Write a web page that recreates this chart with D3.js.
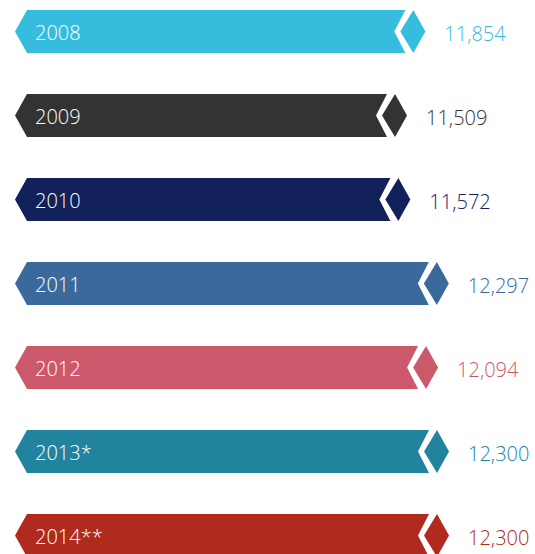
<!DOCTYPE html>
<html>
<head>
<meta charset="utf-8">
<script src="https://cdn.jsdelivr.net/npm/d3@7"></script>
<style>
  html, body { margin: 0; padding: 0; background: #fff; overflow: hidden; }
  text { font-family: "Open Sans", sans-serif; font-weight: 300; }
</style>
</head>
<body>
<svg id="chart"></svg>
<script>
const years = ['2008', '2009', '2010', '2011', '2012', '2013*', '2014**'];
const values = [11854, 11509, 11572, 12297, 12094, 12300, 12300];
const palette = ['#36bddd', '#333333', '#13215a', '#3a6a9b', '#cc586c', '#22839f', '#b02a1e'];

const width = 535, height = 554;
const data = years.map((y, i) => ({year: y, value: values[i], color: palette[i]}));

const svg = d3.select('#chart')
    .attr('width', width)
    .attr('height', height);

// the bar end (tip of the diamond) follows the value
const xscale = d3.scaleLinear()
    .domain([11000, 12300])
    .range([380, 449]);

const yscale = d3.scaleBand()
    .domain(years)
    .range([10, 557])
    .paddingInner(41 / 84)
    .paddingOuter(0);

const left = 15;
const bh = yscale.bandwidth();

function bodyPath(d) {
    const y0 = yscale(d.year), y1 = y0 + bh, ym = y0 + bh / 2;
    const r = xscale(d.value);
    return `M${left},${ym} L${left + 12},${y0} L${r - 20},${y0} L${r - 31},${ym} L${r - 20},${y1} L${left + 12},${y1} Z`;
}

function tipPath(d) {
    const y0 = yscale(d.year), y1 = y0 + bh, ym = y0 + bh / 2;
    const r = xscale(d.value);
    return `M${r - 12},${y0} L${r},${ym} L${r - 12},${y1} L${r - 25},${ym} Z`;
}

const rows = svg.selectAll('.row')
    .data(data)
    .join('g')
    .attr('class', 'row');

rows.append('path')
    .attr('d', bodyPath)
    .attr('fill', d => d.color);

rows.append('path')
    .attr('d', tipPath)
    .attr('fill', d => d.color);

rows.append('text')
    .attr('x', 35)
    .attr('y', d => yscale(d.year) + bh / 2)
    .attr('dy', '0.43em')
    .attr('fill', '#fff')
    .style('font-size', '20px')
    .text(d => d.year);

const fmt = d3.format(',');
rows.append('text')
    .attr('x', d => xscale(d.value) + 19)
    .attr('y', d => yscale(d.year) + bh / 2)
    .attr('dy', '0.45em')
    .attr('fill', d => d.color)
    .style('font-size', '20px')
    .text(d => fmt(d.value));
</script>
</body>
</html>
